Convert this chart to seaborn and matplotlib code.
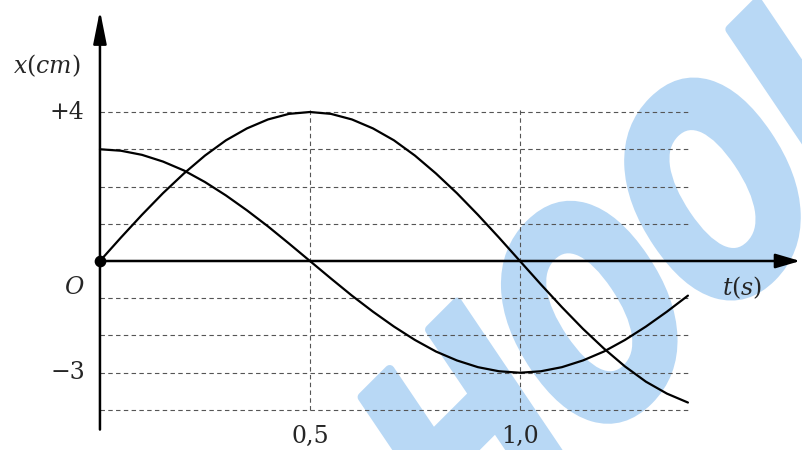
import numpy as np
import pandas as pd
import seaborn as sns
import matplotlib.pyplot as plt
from matplotlib.textpath import TextPath
from matplotlib.patches import PathPatch
from matplotlib.font_manager import FontProperties
from matplotlib.transforms import Affine2D, IdentityTransform

# valores (t en s, x en cm)
t = [0.00, 0.05, 0.10, 0.15, 0.20, 0.25, 0.30, 0.35, 0.40, 0.45,
     0.50, 0.55, 0.60, 0.65, 0.70, 0.75, 0.80, 0.85, 0.90, 0.95,
     1.00, 1.05, 1.10, 1.15, 1.20, 1.25, 1.30, 1.35, 1.40]
x1 = [0.00, 0.63, 1.24, 1.82, 2.35, 2.83, 3.24, 3.56, 3.80, 3.95,
      4.00, 3.95, 3.80, 3.56, 3.24, 2.83, 2.35, 1.82, 1.24, 0.63,
      0.00, -0.63, -1.24, -1.82, -2.35, -2.83, -3.24, -3.56, -3.80]
x2 = [3.00, 2.96, 2.85, 2.67, 2.43, 2.12, 1.76, 1.36, 0.93, 0.47,
      0.00, -0.47, -0.93, -1.36, -1.76, -2.12, -2.43, -2.67, -2.85, -2.96,
      -3.00, -2.96, -2.85, -2.67, -2.43, -2.12, -1.76, -1.36, -0.93]
niveles = [4, 3, 2, 1, -1, -2, -3, -4]
t_marcas = [0.5, 1.0]
t_etiquetas = ["0,5", "1,0"]
y_etiquetas = {4: "+4", -3: "\u22123"}

sns.set_style("white")
plt.rcParams["mathtext.fontset"] = "dejavuserif"
plt.rcParams["font.family"] = ["DejaVu Serif"]

fig = plt.figure(figsize=(8.03, 4.5), dpi=100)
ax = fig.add_axes([0, 0, 1, 1])
ax.set_xlim(-0.238, 1.674)
ax.set_ylim(-5.074, 7.007)
ax.axis("off")

# marca de agua (en pixeles), letras inclinadas y giradas
fp = FontProperties(family="DejaVu Sans", weight="bold")
tp = TextPath((0, 0), "HOOL", size=1, prop=fp)
ho = TextPath((0, 0), "HO", size=1, prop=fp).get_extents()
oo = TextPath((0, 0), "O", size=1, prop=fp).get_extents()
cx = ho.x1 - oo.width / 2
cy = oo.height / 2
tr = (Affine2D().translate(-cx, -cy).scale(205, 275).skew_deg(11, 0)
      .rotate_deg(45).translate(587, 450 - 309))
ax.add_patch(PathPatch(tr.transform_path(tp), transform=IdentityTransform(),
                       facecolor="#b8d8f5", edgecolor="#b8d8f5", lw=7,
                       joinstyle="round", zorder=0.5))

# rejilla punteada
t_fin = t[-1]
for n in niveles:
    ax.plot([0, t_fin], [n, n], ls=(0, (4, 3)), color="#555555", lw=0.8, zorder=1)
for tm in t_marcas:
    ax.plot([tm, tm], [-4, 4.1], ls=(0, (4, 3)), color="#555555", lw=0.8, zorder=1)

# curvas
sns.lineplot(x=t, y=x1, color="black", lw=1.6, ax=ax, zorder=3)
sns.lineplot(x=t, y=x2, color="black", lw=1.6, ax=ax, zorder=3)

# ejes con flechas
ax.annotate("", xy=(1.674, 0), xytext=(0, 0),
            arrowprops=dict(arrowstyle="-|>,head_length=0.75,head_width=0.22",
                            color="black", lw=1.8, mutation_scale=20), zorder=4)
ax.annotate("", xy=(0, 6.8), xytext=(0, -4.6),
            arrowprops=dict(arrowstyle="-|>,head_length=1.0,head_width=0.2",
                            color="black", lw=1.8, mutation_scale=20), zorder=4)
ax.scatter([0], [0], s=55, color="black", zorder=5)

# textos
fs = 17
ax.text(-0.126, 5.25, r"$x(cm)$", fontsize=fs, ha="center", va="center", zorder=6)
ax.text(-0.036, 4.0, y_etiquetas[4], fontsize=fs, ha="right", va="center", zorder=6)
ax.text(-0.036, -3.0, y_etiquetas[-3], fontsize=fs, ha="right", va="center", zorder=6)
ax.text(-0.06, -0.72, r"$O$", fontsize=fs, ha="center", va="center", zorder=6)
ax.text(1.529, -0.72, r"$t(s)$", fontsize=fs, ha="center", va="center", zorder=6)
for tm, lab in zip(t_marcas, t_etiquetas):
    ax.text(tm, -4.7, lab, fontsize=fs, ha="center", va="center", zorder=6)

plt.savefig("out.png", dpi=100)
plt.close()
